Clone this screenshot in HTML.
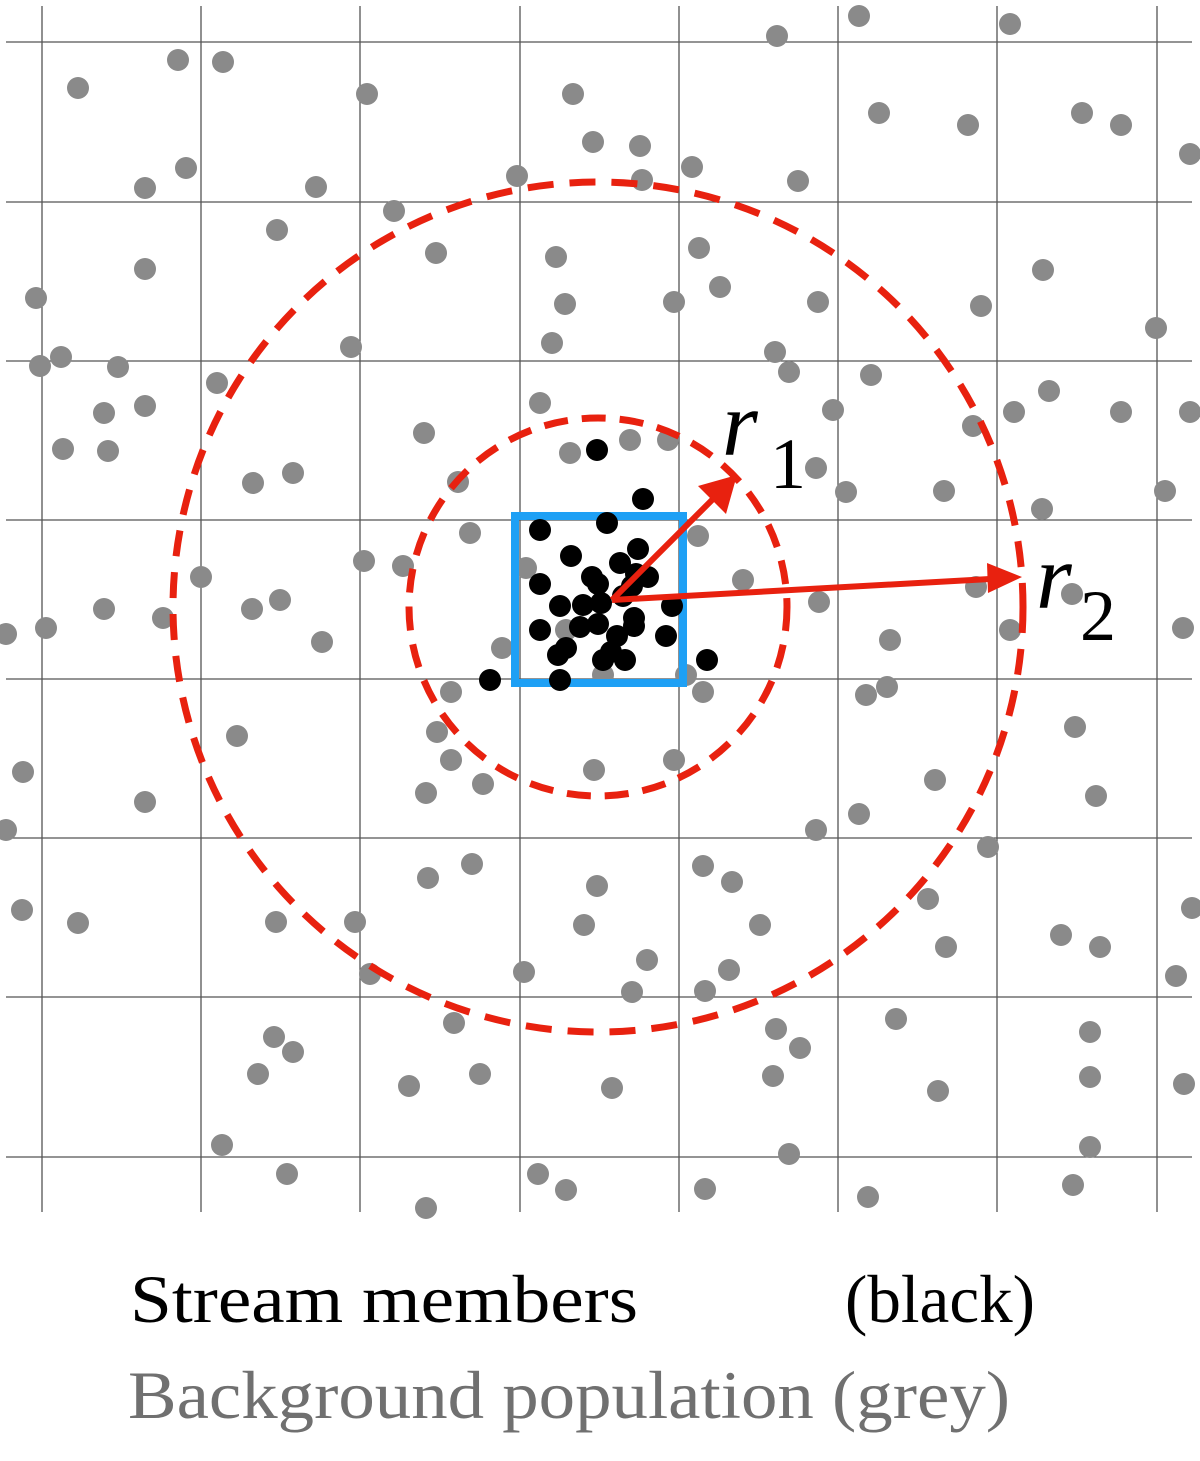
<!DOCTYPE html>
<html><head><meta charset="utf-8"><style>
html,body{margin:0;padding:0;background:#fff;width:1200px;height:1461px;overflow:hidden}
</style></head><body>
<svg width="1200" height="1461" viewBox="0 0 1200 1461" xmlns="http://www.w3.org/2000/svg">
<g stroke="#555" stroke-width="1.3">
<line x1="42" y1="6" x2="42" y2="1212"/><line x1="201" y1="6" x2="201" y2="1212"/><line x1="360" y1="6" x2="360" y2="1212"/><line x1="520" y1="6" x2="520" y2="1212"/><line x1="679" y1="6" x2="679" y2="1212"/><line x1="838" y1="6" x2="838" y2="1212"/><line x1="997" y1="6" x2="997" y2="1212"/><line x1="1157" y1="6" x2="1157" y2="1212"/>
<line x1="6" y1="42" x2="1192" y2="42"/><line x1="6" y1="202" x2="1192" y2="202"/><line x1="6" y1="361" x2="1192" y2="361"/><line x1="6" y1="520" x2="1192" y2="520"/><line x1="6" y1="679" x2="1192" y2="679"/><line x1="6" y1="838" x2="1192" y2="838"/><line x1="6" y1="997" x2="1192" y2="997"/><line x1="6" y1="1157" x2="1192" y2="1157"/>
</g>
<g fill="#8a8a8a" id="grey"></g>
<rect x="515" y="516" width="168" height="167" fill="none" stroke="#1ea0f5" stroke-width="8"/>
<g fill="#000" id="black"></g>
<circle cx="598" cy="607" r="425" fill="none" stroke="#e8210f" stroke-width="7" stroke-dasharray="26,16"/>
<circle cx="598" cy="607" r="189" fill="none" stroke="#e8210f" stroke-width="7" stroke-dasharray="24,14"/>
<g stroke="#e8210f" stroke-width="6" fill="#e8210f">
<line x1="612" y1="600" x2="715" y2="497"/>
<polygon points="737,475 726,514 698,486" stroke="none"/>
<line x1="612" y1="600" x2="990" y2="579"/>
<polygon points="1022,577 988,593 987,563" stroke="none"/>
</g>
<g font-family="'Liberation Serif',serif" fill="#000">
<text x="722" y="455" font-size="92" font-style="italic">r</text>
<text x="770" y="488" font-size="72">1</text>
<text x="1036" y="608" font-size="92" font-style="italic">r</text>
<text x="1080" y="640" font-size="72">2</text>
<text x="130" y="1322" font-size="68" textLength="508" lengthAdjust="spacingAndGlyphs">Stream members</text>
<text x="845" y="1322" font-size="68" textLength="190" lengthAdjust="spacingAndGlyphs">(black)</text>
<text x="128" y="1418" font-size="68" fill="#707070" textLength="882" lengthAdjust="spacingAndGlyphs">Background population (grey)</text>
</g>
</svg>
<script>
var g=[[78,88],[178,60],[223,62],[367,94],[573,94],[777,36],[859,16],[1010,24],[879,113],[968,125],[1082,113],[1121,125],[1190,154],[593,142],[640,146],[692,167],[145,188],[186,168],[316,187],[517,176],[642,180],[798,181],[394,211],[277,230],[436,253],[556,257],[699,248],[145,269],[720,287],[565,304],[674,302],[818,302],[981,306],[1043,270],[36,298],[1156,328],[351,347],[552,343],[775,352],[40,366],[61,357],[118,367],[217,383],[789,372],[871,375],[1049,391],[104,413],[145,406],[540,403],[833,410],[1014,412],[973,426],[1121,412],[1190,412],[63,449],[108,451],[424,433],[570,453],[630,440],[668,440],[816,468],[253,483],[293,473],[458,482],[846,492],[944,491],[1042,509],[1165,491],[470,533],[698,536],[364,561],[403,566],[526,568],[201,577],[743,580],[976,587],[1072,594],[6,634],[46,628],[104,609],[163,618],[252,609],[280,600],[322,642],[819,602],[1010,630],[1183,628],[890,640],[502,648],[566,630],[603,675],[686,675],[451,692],[703,692],[866,695],[887,687],[237,736],[437,732],[1075,727],[23,772],[145,802],[451,760],[674,760],[594,770],[426,793],[483,784],[935,780],[1096,796],[816,830],[859,814],[988,847],[6,830],[428,878],[472,864],[597,886],[703,866],[732,882],[22,910],[78,923],[276,922],[355,922],[584,925],[760,925],[928,899],[1061,935],[1100,947],[946,947],[1192,908],[524,972],[370,974],[647,960],[729,970],[632,992],[705,991],[1176,976],[454,1023],[896,1019],[776,1029],[274,1037],[293,1052],[1090,1032],[258,1074],[409,1086],[480,1074],[612,1088],[773,1076],[800,1048],[938,1091],[1090,1077],[1184,1084],[222,1145],[789,1154],[1090,1147],[287,1174],[538,1174],[566,1190],[705,1189],[868,1197],[1073,1185],[426,1208]];
var b=[[597,450],[643,499],[540,530],[607,523],[571,556],[638,549],[620,563],[592,577],[540,584],[648,577],[632,586],[560,606],[583,605],[601,603],[623,596],[672,606],[540,630],[580,627],[598,624],[617,636],[634,618],[634,626],[666,636],[566,648],[558,655],[603,660],[611,652],[625,660],[707,660],[490,680],[560,680],[598,584],[636,574]];
var ns="http://www.w3.org/2000/svg";
function add(id,a){var e=document.getElementById(id);a.forEach(function(p){var c=document.createElementNS(ns,"circle");c.setAttribute("cx",p[0]);c.setAttribute("cy",p[1]);c.setAttribute("r",11);e.appendChild(c);});}
add("grey",g);add("black",b);
</script>
</body></html>
